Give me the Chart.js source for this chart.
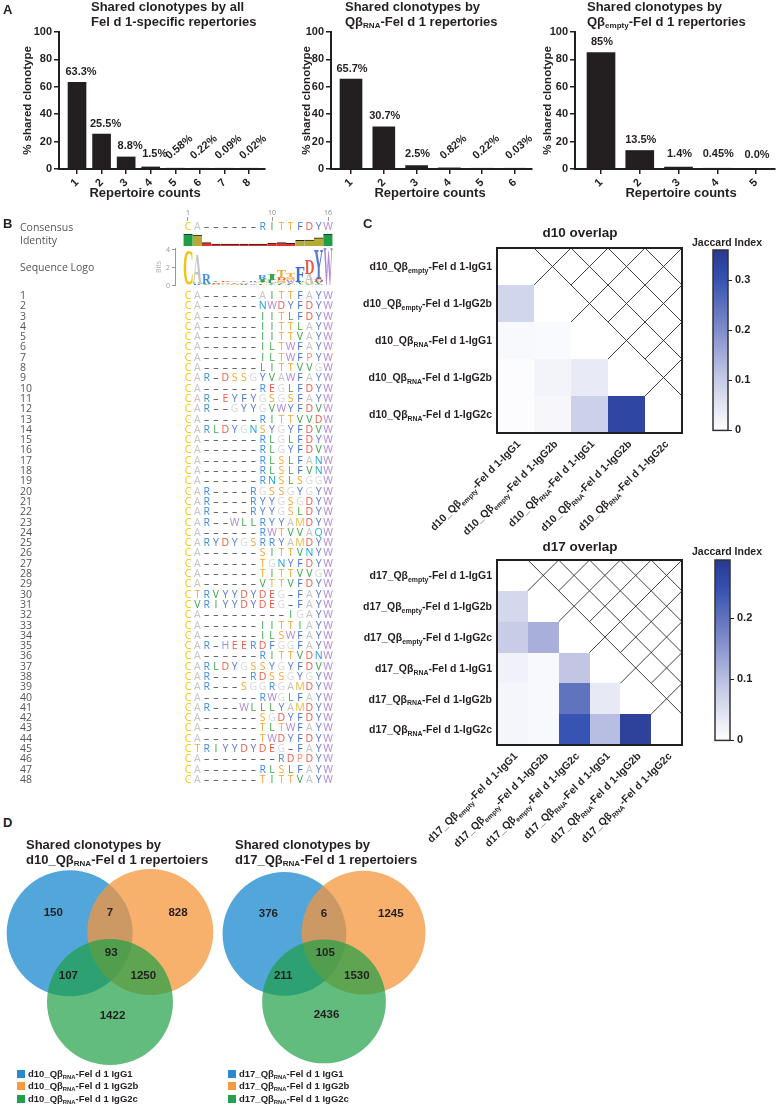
<!DOCTYPE html>
<html>
<head>
<meta charset="utf-8">
<title>Fel d 1 clonotype sharing</title>
<script src="https://cdn.jsdelivr.net/npm/chart.js@4.4.1/dist/chart.umd.min.js"></script>
<style>
  html, body { margin: 0; padding: 0; background: #fff; }
  body { position: relative; width: 782px; height: 1108px; overflow: hidden;
         font-family: "Liberation Sans", Arial, sans-serif; color: #231f20; }
  canvas { position: absolute; }
  .lbl { position: absolute; white-space: nowrap; font-weight: bold; }
  .lbl sub { font-size: 0.62em; vertical-align: -0.3em; line-height: 0; }
  .seqhead { position: absolute; white-space: nowrap; font-family: "Open Sans", sans-serif; color: #555; }
  .key { position: absolute; width: 8px; height: 8px; }
</style>
</head>
<body>
<script>
// ---------- panel A: shared clonotypes ----------
const repCounts1 = [1, 2, 3, 4, 5, 6, 7, 8];
const shared1 = [63.3, 25.5, 8.8, 1.5, 0.58, 0.22, 0.09, 0.02];
const sharedTxt1 = ['63.3%', '25.5%', '8.8%', '1.5%', '0.58%', '0.22%', '0.09%', '0.02%'];
const repCounts2 = [1, 2, 3, 4, 5, 6];
const shared2 = [65.7, 30.7, 2.5, 0.82, 0.22, 0.03];
const sharedTxt2 = ['65.7%', '30.7%', '2.5%', '0.82%', '0.22%', '0.03%'];
const repCounts3 = [1, 2, 3, 4, 5];
const shared3 = [85, 13.5, 1.4, 0.45, 0.0];
const sharedTxt3 = ['85%', '13.5%', '1.4%', '0.45%', '0.0%'];
const pctTicks = [0, 20, 40, 60, 80, 100];

// ---------- panel B: CDR3 alignment ----------
const consensus = 'CA------RITTFDYW';
const rulerMarks = [1, 10, 16];
const identity = [100, 92, 28, 15, 15, 15, 15, 15, 17, 24, 28, 22, 48, 50, 68, 100];
const logoStacks = [
  [['C', 3.85]],
  [['R', 0.15], ['A', 3.3]],
  [['Y', 0.1], ['V', 0.12], ['R', 1.0]],
  [['G', 0.1], ['S', 0.12], ['D', 0.15], ['Y', 0.15]],
  [['L', 0.1], ['G', 0.12], ['S', 0.15], ['D', 0.15]],
  [['D', 0.1], ['S', 0.12], ['Y', 0.15], ['G', 0.15]],
  [['L', 0.12], ['R', 0.12], ['S', 0.15], ['Y', 0.18]],
  [['Y', 0.12], ['W', 0.15], ['G', 0.18], ['R', 0.2]],
  [['N', 0.12], ['L', 0.15], ['T', 0.2], ['I', 0.25], ['R', 0.4]],
  [['V', 0.15], ['Y', 0.2], ['L', 0.25], ['I', 0.55]],
  [['L', 0.15], ['Y', 0.2], ['S', 0.25], ['D', 0.3], ['T', 0.9]],
  [['L', 0.15], ['Y', 0.2], ['W', 0.25], ['S', 0.35], ['T', 0.45]],
  [['A', 0.15], ['V', 0.3], ['F', 1.7]],
  [['V', 0.15], ['S', 0.2], ['A', 1.0], ['D', 1.55]],
  [['N', 0.15], ['V', 0.25], ['D', 0.3], ['Y', 3.2]],
  [['W', 4.1]]
];
const bitTicks = [0, 2, 4];
const seqs = [
  'CA------AITTFAYW', 'CA------NWDYFDYW', 'CA------IITLFDYW', 'CA------IITTLAYW',
  'CA------IITTVAYW', 'CA------ILTWFAYW', 'CA------ILTWFPYW', 'CA------LITTVVGW',
  'CAR-DSSGYVAWFAYW', 'CA------REGLFDYW', 'CAR-EYFYGSGSFAYW', 'CAR--GYYGVWYFDVW',
  'CA------RITTVVDW', 'CARLDYGNSYGYFDVW', 'CA------RLGLFDYW', 'CA------RLGYFDVW',
  'CA------RLSLFANW', 'CA------RLSLFVNW', 'CA------RNSLSGGW', 'CAR----RGSSGYGYW',
  'CAR----RYYGSGDYW', 'CAR----RYYGSLDYW', 'CAR--WLLRYYAMDYW', 'CA------RWTVVAQW',
  'CARYDYGSRRYAMDYW', 'CA------SITTVNYW', 'CA------TGNYFDYW', 'CA------TITTVVGW',
  'CA------VTTVFDYW', 'CTRVYYDYDEG-FAYW', 'CVRIYYDYDEG-FAYW', 'CA---------IGAYW',
  'CA------IITTIAYW', 'CA------ILSWFAYW', 'CAR-HEERDFGGFAYW', 'CA------RITTVDNW',
  'CARLDYGSSYGYFDVW', 'CAR----RDSSGYGYW', 'CAR---SGGRGAMDYW', 'CA------RWGLFAYW',
  'CAR---WLLLYAMDYW', 'CA------SGDYFDYW', 'CA------TLTWFAYW', 'CA------TWDYFDYW',
  'CTRIYYDYDEG-FAYW', 'CA--------RDPDYW', 'CA------RLSLFAYW', 'CA------TITTVAYW'
];

// ---------- panel C: Jaccard overlap (lower triangle) ----------
const d10Names = ['d10_Qβ~empty~-Fel d 1-IgG1', 'd10_Qβ~empty~-Fel d 1-IgG2b',
  'd10_Qβ~RNA~-Fel d 1-IgG1', 'd10_Qβ~RNA~-Fel d 1-IgG2b', 'd10_Qβ~RNA~-Fel d 1-IgG2c'];
const d10Jaccard = [[], [0.08], [0.012, 0.01], [0.006, 0.022, 0.04], [0.006, 0.015, 0.09, 0.33]];
const d10Max = 0.36;
const d10Ticks = [0, 0.1, 0.2, 0.3];
const d17Names = ['d17_Qβ~empty~-Fel d 1-IgG1', 'd17_Qβ~empty~-Fel d 1-IgG2b', 'd17_Qβ~empty~-Fel d 1-IgG2c',
  'd17_Qβ~RNA~-Fel d 1-IgG1', 'd17_Qβ~RNA~-Fel d 1-IgG2b', 'd17_Qβ~RNA~-Fel d 1-IgG2c'];
const d17Jaccard = [[], [0.062], [0.08, 0.12], [0.02, 0.01, 0.09], [0.015, 0.01, 0.2, 0.035], [0.015, 0.01, 0.245, 0.1, 0.28]];
const d17Max = 0.295;
const d17Ticks = [0, 0.1, 0.2];

// ---------- panel D: Venn counts (A, AB, B, ABC, AC, BC, C) ----------
const vennSets = ['IgG1', 'IgG2b', 'IgG2c'];
const vennD10 = [150, 7, 828, 93, 107, 1250, 1422];
const vennD17 = [376, 6, 1245, 105, 211, 1530, 2436];

// ---------- look ----------
const INK = '#231f20';
const SANS = '"Liberation Sans", Arial, sans-serif';
const SEQF = '"Open Sans", "DejaVu Sans", sans-serif';
const LOGOF = '"Liberation Serif", serif';
const AA = {
  A: '#c4c4c4', C: '#f0c514', D: '#ec5a47', E: '#ec5a47', F: '#3b6fd6', G: '#d9d9d9',
  H: '#8b93df', I: '#3aa54a', K: '#3b6fd6', L: '#3aa54a', M: '#e8b93c', N: '#1fa3d9',
  P: '#f08f7a', Q: '#1fb3d6', R: '#3d8ee0', S: '#f5a534', T: '#f5a534', V: '#3aa54a',
  W: '#b088d6', Y: '#5a7bd0', '-': '#444'
};
const RAMP = [[0, [255, 255, 255]], [0.3, [194, 199, 229]], [0.6, [117, 131, 198]], [0.85, [51, 80, 176]], [1, [43, 57, 144]]];

function rampColor(t) {
  t = Math.max(0, Math.min(1, t));
  for (let i = 1; i < RAMP.length; i++) {
    if (t <= RAMP[i][0]) {
      const [t0, c0] = RAMP[i - 1], [t1, c1] = RAMP[i];
      const f = (t - t0) / (t1 - t0);
      return `rgb(${c0.map((v, k) => Math.round(v + (c1[k] - v) * f)).join(',')})`;
    }
  }
  return 'rgb(43,57,144)';
}

function make(left, top, w, h, cfg) {
  const cv = document.createElement('canvas');
  cv.width = w; cv.height = h;
  Object.assign(cv.style, { left: left + 'px', top: top + 'px', width: w + 'px', height: h + 'px' });
  document.body.appendChild(cv);
  cfg.options = Object.assign({ responsive: false, animation: false, devicePixelRatio: 1, events: [] }, cfg.options);
  cfg.options.plugins = Object.assign({ legend: { display: false }, tooltip: { enabled: false } }, cfg.options.plugins);
  return new Chart(cv, cfg);
}

function text(html, o) {
  const d = document.createElement('div');
  d.className = o.cls || 'lbl';
  d.innerHTML = html;
  const lh = o.lh || Math.round(o.size * 1.2);
  d.style.fontSize = o.size + 'px';
  d.style.lineHeight = lh + 'px';
  if (o.color) d.style.color = o.color;
  d.style.top = (o.cy - lh / 2) + 'px';
  if (o.cx !== undefined) {
    d.style.left = (o.cx - 200) + 'px'; d.style.width = '400px'; d.style.textAlign = 'center';
  } else {
    d.style.left = o.x + 'px';
  }
  document.body.appendChild(d);
}

// label text with ~subscript~ parts
function drawRich(ctx, s, x, y, size, align) {
  const parts = s.split('~').map((t, i) => ({ t, sub: i % 2 === 1 })).filter(p => p.t);
  const fontOf = p => `bold ${p.sub ? size * 0.66 : size}px ${SANS}`;
  let w = 0;
  parts.forEach(p => { ctx.font = fontOf(p); w += ctx.measureText(p.t).width; });
  let cx = align === 'right' ? x - w : x;
  const base = y + size * 0.36;
  ctx.textAlign = 'left'; ctx.textBaseline = 'alphabetic';
  parts.forEach(p => {
    ctx.font = fontOf(p);
    ctx.fillText(p.t, cx, p.sub ? base + size * 0.28 : base);
    cx += ctx.measureText(p.t).width;
  });
}

// ---------- plugins ----------
const pctPlugin = {
  id: 'pct',
  afterDatasetsDraw(chart, args, o) {
    const { ctx } = chart;
    const ds = chart.data.datasets[0];
    ctx.save();
    ctx.fillStyle = INK;
    ctx.font = `bold 11px ${SANS}`;
    chart.getDatasetMeta(0).data.forEach((bar, i) => {
      const s = ds.valueText[i];
      if (o.tilt && ds.data[i].y < 1) {
        ctx.save();
        ctx.translate(bar.x + 4, bar.base - 21);
        ctx.rotate(-40 * Math.PI / 180);
        ctx.textAlign = 'center'; ctx.textBaseline = 'middle';
        ctx.fillText(s, 0, 0);
        ctx.restore();
      } else {
        ctx.textAlign = 'center'; ctx.textBaseline = 'bottom';
        ctx.fillText(s, bar.x + o.dx, Math.min(bar.y - 5, bar.base - 9));
      }
    });
    ctx.restore();
  }
};

const letterPlugin = {
  id: 'letters',
  afterDatasetsDraw(chart) {
    const { ctx } = chart;
    ctx.save();
    ctx.font = `10.5px ${SEQF}`;
    ctx.textAlign = 'center'; ctx.textBaseline = 'middle';
    chart.data.datasets.forEach((ds, di) => {
      if (!ds.residues) return;
      chart.getDatasetMeta(di).data.forEach((pt, i) => {
        const ch = ds.data[i].ch;
        ctx.fillStyle = AA[ch] || '#888';
        ctx.fillText(ch === '-' ? '–' : ch, pt.x, pt.y);
      });
    });
    ctx.restore();
  }
};

const logoPlugin = {
  id: 'logo',
  afterDatasetsDraw(chart) {
    const { ctx } = chart;
    const ds = chart.data.datasets[0];
    ctx.save();
    ctx.font = `bold 100px ${LOGOF}`;
    ctx.textAlign = 'left'; ctx.textBaseline = 'alphabetic';
    chart.getDatasetMeta(0).data.forEach((el, i) => {
      const ch = ds.data[i].ch;
      const top = Math.min(el.y, el.base), h = Math.abs(el.base - el.y);
      if (h < 0.6) return;
      const m = ctx.measureText(ch);
      const gw = m.actualBoundingBoxLeft + m.actualBoundingBoxRight;
      const gh = m.actualBoundingBoxAscent + m.actualBoundingBoxDescent;
      ctx.save();
      ctx.translate(el.x - el.width / 2, top);
      ctx.scale(el.width / gw, h / gh);
      ctx.fillStyle = AA[ch];
      ctx.fillText(ch, m.actualBoundingBoxLeft, m.actualBoundingBoxAscent);
      ctx.restore();
    });
    ctx.restore();
  }
};

const heatPlugin = {
  id: 'heat',
  beforeDatasetsDraw(chart, args, o) {
    const { ctx, chartArea: a, scales: { x, y } } = chart;
    const nC = x.getLabels().length, nR = y.getLabels().length;
    const cw = (a.right - a.left) / nC, chh = (a.bottom - a.top) / nR;
    const raw = chart.data.datasets[0].data;
    ctx.save();
    chart.getDatasetMeta(0).data.forEach((pt, i) => {
      const x0 = Math.round(pt.x - cw / 2), x1 = Math.round(pt.x + cw / 2);
      const y0 = Math.round(pt.y - chh / 2), y1 = Math.round(pt.y + chh / 2);
      ctx.fillStyle = rampColor(raw[i].v / o.max);
      ctx.fillRect(x0, y0, x1 - x0, y1 - y0);
    });
    ctx.beginPath();
    for (let r = 0; r < nR; r++) {
      for (let c = r + 1; c < nC; c++) {
        const px = x.getPixelForValue(c), py = y.getPixelForValue(r);
        ctx.moveTo(px - cw / 2, py - chh / 2); ctx.lineTo(px + cw / 2, py + chh / 2);
        ctx.moveTo(px - cw / 2, py + chh / 2); ctx.lineTo(px + cw / 2, py - chh / 2);
      }
    }
    ctx.strokeStyle = '#2a2a2a'; ctx.lineWidth = 0.9; ctx.stroke();
    ctx.lineWidth = 2; ctx.strokeStyle = INK;
    ctx.strokeRect(a.left, a.top, a.right - a.left, a.bottom - a.top);
    ctx.fillStyle = INK;
    y.getLabels().forEach((lab, r) => drawRich(ctx, lab, a.left - 5, y.getPixelForValue(r), 10.5, 'right'));
    x.getLabels().forEach((lab, c) => {
      ctx.save();
      ctx.translate(x.getPixelForValue(c) + 3, a.bottom + 9);
      ctx.rotate(-Math.PI / 4);
      drawRich(ctx, lab, 0, 0, 10.5, 'right');
      ctx.restore();
    });
    ctx.restore();
  }
};

const framePlugin = {
  id: 'frame',
  afterDatasetsDraw(chart) {
    const { ctx, chartArea: a } = chart;
    ctx.save();
    ctx.strokeStyle = '#333'; ctx.lineWidth = 1.5;
    ctx.strokeRect(a.left, a.top, a.right - a.left, a.bottom - a.top);
    ctx.restore();
  }
};

// venn layout in circle-radius units: circle centres and label anchors
const CIRCLES = [
  { x: -0.64, y: -0.34, fill: 'rgba(26,136,205,0.75)', order: 2 },
  { x: 0.64, y: -0.36, fill: 'rgba(245,150,60,0.75)', order: 1 },
  { x: 0.0, y: 0.75, fill: 'rgba(30,160,70,0.7)', order: 0 }
];
const REGION_AT = [[-0.9, -0.67], [0, -0.67], [1.08, -0.67], [0.02, -0.03], [-0.66, 0.33], [0.53, 0.33], [0.04, 0.96]];

const vennCountPlugin = {
  id: 'vennCounts',
  afterDatasetsDraw(chart, args, o) {
    const { ctx, scales: { x, y } } = chart;
    ctx.save();
    ctx.fillStyle = INK;
    ctx.font = `bold 11.5px ${SANS}`;
    ctx.textAlign = 'center'; ctx.textBaseline = 'middle';
    o.counts.forEach((n, i) => {
      ctx.fillText(String(n), x.getPixelForValue(REGION_AT[i][0]), y.getPixelForValue(REGION_AT[i][1]));
    });
    ctx.restore();
  }
};

// ---------- panel A charts ----------
function shareChart(o) {
  const axisCommon = {
    grid: { display: true, drawOnChartArea: false, drawTicks: true, tickLength: 5, color: INK, lineWidth: 1.5, offset: false },
    border: { color: INK, width: 2 },
    ticks: { font: { size: 11, weight: 'bold' }, color: INK, padding: 2 }
  };
  make(o.left, 0, o.width, 200, {
    type: 'bar',
    data: {
      datasets: [{
        data: o.counts.map((c, i) => ({ x: c, y: o.vals[i] })),
        valueText: o.txt,
        backgroundColor: INK,
        barThickness: o.bar
      }]
    },
    options: {
      layout: { padding: { left: 0, top: 32, right: o.width - (o.axisEnd - o.left), bottom: 0 } },
      scales: {
        x: Object.assign({}, axisCommon, {
          type: 'linear', offset: false, min: o.xmin, max: o.xmax,
          afterBuildTicks: s => { s.ticks = o.counts.map(v => ({ value: v })); },
          afterFit: s => { s.height = 31; },
          ticks: Object.assign({}, axisCommon.ticks, { minRotation: 45, maxRotation: 45, callback: v => String(v) })
        }),
        y: Object.assign({}, axisCommon, {
          min: 0, max: 100,
          afterBuildTicks: s => { s.ticks = pctTicks.map(v => ({ value: v })); },
          afterFit: s => { s.width = o.axisX - o.left; },
          title: { display: true, text: '% shared clonotype', color: INK,
                   font: { size: 11.5, weight: 'bold' }, padding: { top: o.titlePad, bottom: 0 } }
        })
      },
      plugins: { pct: { tilt: o.tilt, dx: o.dx } }
    },
    plugins: [pctPlugin]
  });
}

shareChart({ left: 0, width: 272, axisX: 59, axisEnd: 265, xmin: 0.267, xmax: 8.651, bar: 18, titlePad: 21,
  counts: repCounts1, vals: shared1, txt: sharedTxt1, tilt: true, dx: 4 });
shareChart({ left: 270, width: 270, axisX: 331, axisEnd: 532, xmin: 0.39, xmax: 6.518, bar: 22, titlePad: 30,
  counts: repCounts2, vals: shared2, txt: sharedTxt2, tilt: true, dx: 1 });
shareChart({ left: 520, width: 262, axisX: 575, axisEnd: 775, xmin: 0.329, xmax: 5.49, bar: 28, titlePad: 21,
  counts: repCounts3, vals: shared3, txt: sharedTxt3, tilt: false, dx: 1 });

text('A', { x: 3, cy: 10, size: 13 });
text('Shared clonotypes by all<br>Fel d 1-specific repertories', { x: 91, cy: 6.5, size: 13, lh: 15.5 });
text('Shared clonotypes by<br>Qβ<sub>RNA</sub>-Fel d 1 repertories', { x: 345, cy: 6.5, size: 13, lh: 15.5 });
text('Shared clonotypes by<br>Qβ<sub>empty</sub>-Fel d 1 repertories', { x: 587, cy: 6.5, size: 13, lh: 15.5 });
text('Repertoire counts', { cx: 145, cy: 193, size: 13 });
text('Repertoire counts', { cx: 430, cy: 193, size: 13 });
text('Repertoire counts', { cx: 681, cy: 193, size: 13 });

// ---------- panel B charts ----------
const colNums = consensus.split('').map((_, i) => i + 1);

// ruler, consensus and identity
make(0, 200, 345, 50, {
  type: 'bar',
  data: {
    datasets: [
      {
        data: colNums.map((c, i) => ({ x: c, y: identity[i] })),
        backgroundColor: c => { const v = c.raw.y; return v >= 100 ? '#1f9e48' : v >= 30 ? '#b3ab35' : '#e5302b'; },
        borderColor: '#222', borderWidth: { top: 1, left: 0, right: 0, bottom: 0 }, borderSkipped: 'start',
        barPercentage: 1, categoryPercentage: 1
      },
      {
        type: 'scatter', residues: true, pointRadius: 0,
        data: consensus.split('').map((ch, i) => ({ x: i + 1, y: 158.3, ch }))
      }
    ]
  },
  options: {
    layout: { padding: { left: 183.33, right: 12.33, top: 7, bottom: 4 } },
    scales: {
      x: {
        type: 'linear', position: 'top', offset: false, min: 0.5, max: 16.5,
        afterBuildTicks: s => { s.ticks = rulerMarks.map(v => ({ value: v })); },
        afterFit: s => { s.height = 14; },
        ticks: { font: { family: SEQF, size: 7 }, color: '#888', padding: 0, minRotation: 0, maxRotation: 0, callback: v => String(v) },
        grid: { drawOnChartArea: false, tickLength: 4, color: '#999', lineWidth: 1, offset: false },
        border: { display: false }
      },
      y: { display: false, min: 0, max: 208.3 }
    }
  },
  plugins: [letterPlugin]
});

// sequence logo
const logoData = [];
logoStacks.forEach((stack, i) => {
  let b = 0;
  stack.forEach(([ch, h]) => { logoData.push({ x: i + 1, y: [b, b + h], ch }); b += h; });
});
make(0, 242, 345, 50, {
  type: 'bar',
  data: { datasets: [{ data: logoData, backgroundColor: 'rgba(0,0,0,0)', barThickness: 9 }] },
  options: {
    layout: { padding: { left: 155, right: 12.33, top: 4, bottom: 5 } },
    scales: {
      x: { type: 'linear', display: false, offset: false, min: -0.393, max: 16.5 },
      y: {
        min: 0, max: 4.2,
        afterBuildTicks: s => { s.ticks = bitTicks.map(v => ({ value: v })); },
        afterFit: s => { s.width = 20; },
        ticks: { font: { family: SEQF, size: 7 }, color: '#999', padding: 2 },
        grid: { drawOnChartArea: false, tickLength: 3, color: '#999' },
        border: { color: '#999', width: 1 },
        title: { display: true, text: 'Bits', color: '#aaa', font: { family: SEQF, size: 7 }, padding: 0 }
      }
    }
  },
  plugins: [logoPlugin]
});

// aligned sequences
make(0, 283, 345, 510, {
  type: 'scatter',
  data: {
    datasets: [{
      residues: true, pointRadius: 0,
      data: seqs.flatMap((s, r) => s.split('').map((ch, c) => ({ x: c + 1, y: String(r + 1), ch })))
    }]
  },
  options: {
    layout: { padding: { left: 20, right: 12.33, top: 7.85, bottom: 7.85 } },
    scales: {
      x: { type: 'linear', display: false, min: 0.5, max: 16.5 },
      y: {
        type: 'category', labels: seqs.map((_, i) => String(i + 1)), offset: true,
        afterFit: s => { s.width = 163.33; },
        ticks: { autoSkip: false, crossAlign: 'far', padding: 0, color: '#555', font: { family: SEQF, size: 10.5 } },
        grid: { display: false },
        border: { display: false }
      }
    }
  },
  plugins: [letterPlugin]
});

text('B', { x: 3, cy: 224, size: 13 });
text('Consensus', { cls: 'seqhead', x: 20, cy: 227, size: 10.5 });
text('Identity', { cls: 'seqhead', x: 20, cy: 240, size: 10.5 });
text('Sequence Logo', { cls: 'seqhead', x: 20, cy: 267, size: 10.5 });

// ---------- panel C charts ----------
function heatmap(top, names, tri, vmax, height) {
  make(340, top, 350, height, {
    type: 'scatter',
    data: {
      datasets: [{
        pointRadius: 0,
        data: tri.flatMap((row, r) => row.map((v, c) => ({ x: names[c], y: names[r], v })))
      }]
    },
    options: {
      layout: { padding: { left: 157, top: 8, right: 8, bottom: height - 8 - 185 } },
      scales: {
        x: { type: 'category', labels: names, offset: true, display: false },
        y: { type: 'category', labels: names, offset: true, display: false }
      },
      plugins: { heat: { max: vmax } }
    },
    plugins: [heatPlugin]
  });
}

function colorbar(left, top, w, vmax, ticks) {
  make(left, top, w, 200, {
    type: 'bar',
    data: {
      labels: ['J'],
      datasets: [{
        data: [[0, vmax]],
        barPercentage: 1, categoryPercentage: 1,
        backgroundColor: c => {
          const a = c.chart.chartArea;
          if (!a) return '#ccc';
          const g = c.chart.ctx.createLinearGradient(0, a.bottom, 0, a.top);
          RAMP.forEach(([t]) => g.addColorStop(t, rampColor(t)));
          return g;
        }
      }]
    },
    options: {
      layout: { padding: { left: w - 49, top: 10, right: 0, bottom: 6 } },
      scales: {
        x: { display: false },
        y: {
          position: 'right', min: 0, max: vmax,
          afterBuildTicks: s => { s.ticks = ticks.map(v => ({ value: v })); },
          afterFit: s => { s.width = 34; },
          ticks: { font: { size: 11, weight: 'bold' }, color: INK, padding: 3, callback: v => (v === 0 ? '0' : v.toFixed(1)) },
          grid: { drawOnChartArea: false, tickLength: 4, color: INK, lineWidth: 1 },
          border: { display: false }
        }
      }
    },
    plugins: [framePlugin]
  });
}

heatmap(240, d10Names, d10Jaccard, d10Max, 310);
colorbar(700, 240, 62, d10Max, d10Ticks);
heatmap(552, d17Names, d17Jaccard, d17Max, 310);
colorbar(700, 550, 64, d17Max, d17Ticks);

text('C', { x: 363, cy: 224, size: 13 });
text('d10 overlap', { cx: 580, cy: 233, size: 13.5 });
text('Jaccard Index', { cx: 727, cy: 242, size: 10.5 });
text('d17 overlap', { cx: 580, cy: 547, size: 13.5 });
text('Jaccard Index', { cx: 727, cy: 551, size: 10.5 });

// ---------- panel D charts ----------
function venn(left, top, w, h, counts) {
  make(left, top, w, h, {
    type: 'scatter',
    data: {
      datasets: CIRCLES.map(c => ({
        data: [{ x: c.x, y: c.y }],
        pointBackgroundColor: c.fill, pointBorderWidth: 0, order: c.order, clip: false,
        pointRadius: ctx => {
          const s = ctx.chart.scales.x;
          return s.getPixelForValue(1) - s.getPixelForValue(0);
        }
      }))
    },
    options: {
      layout: { padding: 0, autoPadding: false },
      scales: {
        x: { type: 'linear', display: false, min: -1.746, max: 1.81 },
        y: { type: 'linear', display: false, min: -1.5, max: 1.92, reverse: true }
      },
      plugins: { vennCounts: { counts } }
    },
    plugins: [vennCountPlugin]
  });
}

venn(0, 860, 224, 216, vennD10);
venn(216, 862, 220, 212, vennD17);

text('D', { x: 3, cy: 823, size: 13 });
text('Shared clonotypes by<br>d10_Qβ<sub>RNA</sub>-Fel d 1 repertoiers', { x: 26, cy: 844, size: 13, lh: 15 });
text('Shared clonotypes by<br>d17_Qβ<sub>RNA</sub>-Fel d 1 repertoiers', { x: 235, cy: 844, size: 13, lh: 15 });

const KEY_FILL = ['#2a8ad0', '#f59a40', '#21a050'];
function vennKey(x, day) {
  vennSets.forEach((s, i) => {
    const cy = 1074 + i * 12.3;
    const k = document.createElement('div');
    k.className = 'key';
    Object.assign(k.style, { left: x + 'px', top: (cy - 4) + 'px', background: KEY_FILL[i] });
    document.body.appendChild(k);
    text(`${day}_Qβ<sub>RNA</sub>-Fel d 1 ${s}`, { x: x + 11, cy, size: 9.5, lh: 12 });
  });
}
vennKey(17, 'd10');
vennKey(228, 'd17');
</script>
</body>
</html>
